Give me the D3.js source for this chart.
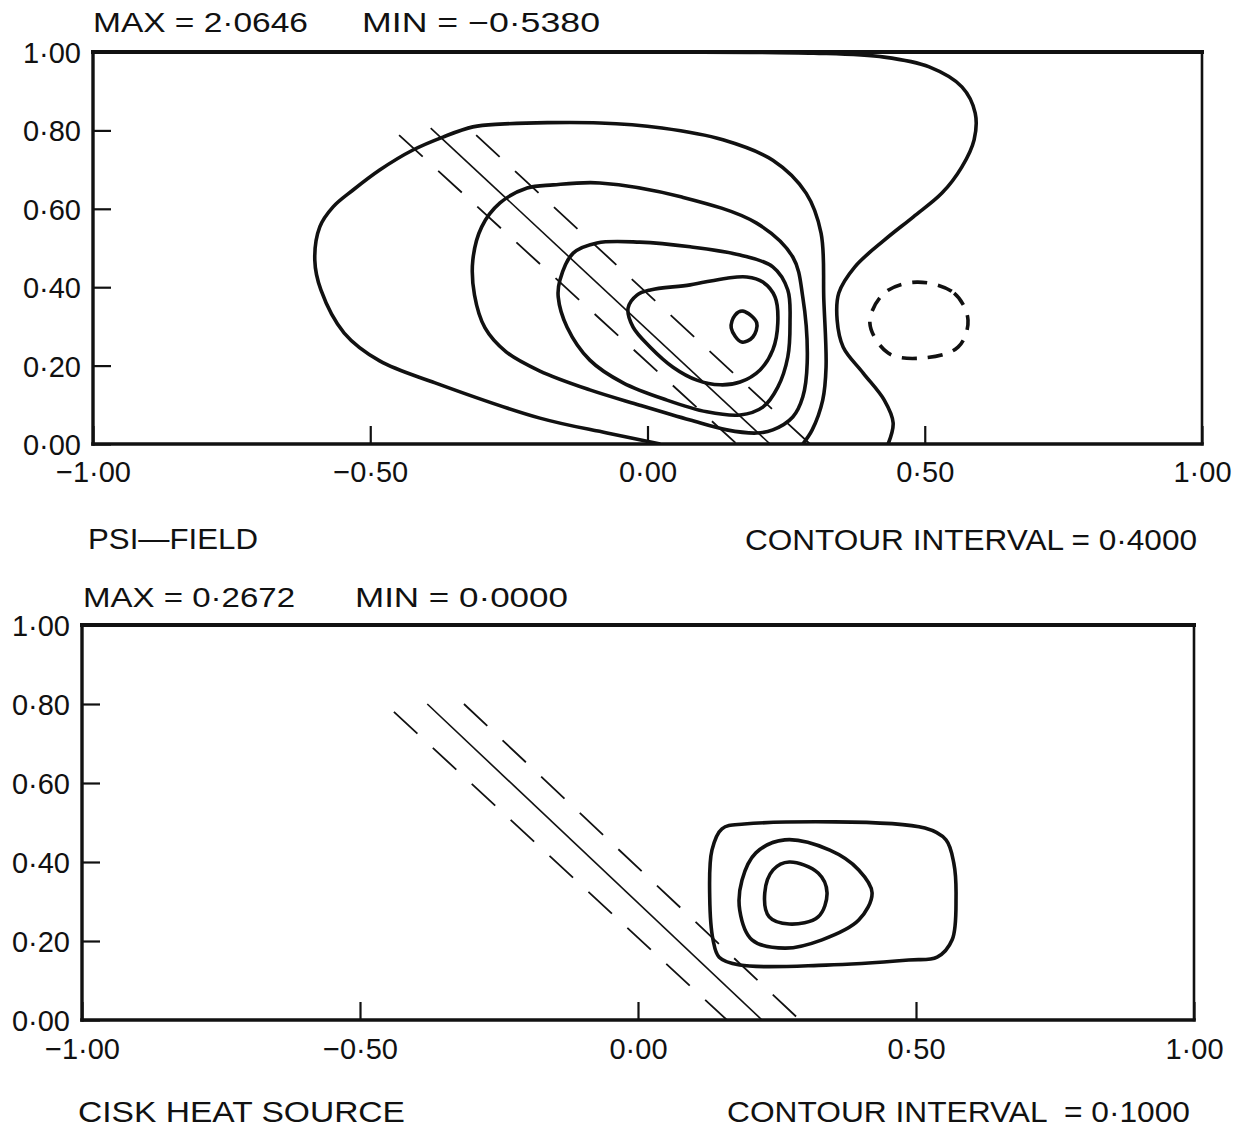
<!DOCTYPE html>
<html>
<head>
<meta charset="utf-8">
<script src="https://cdn.jsdelivr.net/npm/d3@7"></script>
<style>
  body { margin: 0; background: #fff; }
  svg { display: block; }
  text { font-family: "Liberation Sans Narrow", "Liberation Sans", "DejaVu Sans Condensed", sans-serif; fill: #111; white-space: pre; }
</style>
</head>
<body>
<svg width="1245" height="1129"></svg>
<script>
const xTicks = [-1, -0.5, 0, 0.5, 1];
const yTicks = [0, 0.2, 0.4, 0.6, 0.8, 1];

// PSI field contours (interval 0.4), [x, y]
const psiLevel04 = [[-1, 1], [0, 1], [0.3, 0.997], [0.427, 0.987], [0.508, 0.962], [0.567, 0.911], [0.591, 0.844],
  [0.589, 0.776], [0.567, 0.707], [0.531, 0.640], [0.479, 0.579], [0.427, 0.520], [0.374, 0.452],
  [0.345, 0.385], [0.342, 0.316], [0.353, 0.247], [0.389, 0.181], [0.427, 0.112], [0.443, 0.054], [0.434, 0]];
const psiLevel08 = [[0.023, 0], [-0.073, 0.028], [-0.194, 0.066], [-0.383, 0.156], [-0.483, 0.212], [-0.547, 0.283],
  [-0.589, 0.393], [-0.600, 0.469], [-0.591, 0.554], [-0.567, 0.605], [-0.531, 0.648], [-0.483, 0.699],
  [-0.423, 0.750], [-0.369, 0.783], [-0.315, 0.809], [-0.266, 0.816], [-0.086, 0.819], [0.026, 0.806],
  [0.136, 0.776], [0.226, 0.724], [0.286, 0.640], [0.313, 0.538], [0.318, 0.367], [0.322, 0.196],
  [0.316, 0.112], [0.297, 0.036], [0.280, 0]];
const psiLevel12 = [[-0.315, 0.469], [-0.299, 0.554], [-0.266, 0.615], [-0.217, 0.653], [-0.170, 0.661], [-0.086, 0.666],
  [0.062, 0.630], [0.196, 0.564], [0.262, 0.477], [0.280, 0.375], [0.288, 0.207], [0.280, 0.120],
  [0.262, 0.069], [0.226, 0.036], [0.197, 0.028], [0.143, 0.036], [0.077, 0.061], [-0.014, 0.099],
  [-0.104, 0.138], [-0.194, 0.186], [-0.255, 0.235], [-0.293, 0.296], [-0.312, 0.380]];
const psiLevel16 = [[-0.158, 0.418], [-0.134, 0.487], [-0.091, 0.513], [-0.014, 0.515], [0.077, 0.503], [0.167, 0.482],
  [0.226, 0.452], [0.253, 0.393], [0.257, 0.309], [0.253, 0.222], [0.235, 0.145], [0.208, 0.094],
  [0.167, 0.074], [0.107, 0.082], [0.035, 0.112], [-0.044, 0.156], [-0.104, 0.214], [-0.145, 0.298],
  [-0.161, 0.375]];
const psiLevel20 = [[-0.035, 0.347], [-0.019, 0.380], [0.005, 0.393], [0.077, 0.406], [0.143, 0.423], [0.179, 0.426],
  [0.208, 0.413], [0.230, 0.375], [0.235, 0.309], [0.226, 0.240], [0.203, 0.189], [0.167, 0.158],
  [0.131, 0.151], [0.089, 0.163], [0.046, 0.196], [0.005, 0.247], [-0.026, 0.298]];
const psiLevel24 = [[0.172, 0.339], [0.197, 0.309], [0.190, 0.273], [0.170, 0.260], [0.151, 0.296], [0.158, 0.329]];
const psiNeg04 = [[0.486, 0.413], [0.553, 0.385], [0.578, 0.316], [0.560, 0.247], [0.493, 0.219], [0.434, 0.232],
  [0.401, 0.309], [0.427, 0.385]];

// CISK heat source contours (interval 0.1)
const ciskLevel1 = [[0.191, 0.496], [0.516, 0.486], [0.554, 0.456], [0.568, 0.397], [0.572, 0.311], [0.565, 0.203],
  [0.538, 0.159], [0.487, 0.152], [0.338, 0.139], [0.183, 0.139], [0.146, 0.159], [0.135, 0.203],
  [0.129, 0.311], [0.133, 0.430], [0.151, 0.484]];
const ciskLevel2 = [[0.264, 0.456], [0.345, 0.430], [0.397, 0.380], [0.421, 0.322], [0.397, 0.253], [0.331, 0.203],
  [0.264, 0.182], [0.205, 0.203], [0.183, 0.278], [0.187, 0.354], [0.212, 0.423]];
const ciskLevel3 = [[0.272, 0.400], [0.324, 0.372], [0.340, 0.322], [0.324, 0.261], [0.272, 0.243], [0.236, 0.261],
  [0.228, 0.322], [0.243, 0.380]];

// sloping front lines: solid centre and two dashed sides
const psiFront = { solid: [[-0.391, 0.806], [0.221, 0]], left: [[-0.448, 0.788], [0.161, 0]], right: [[-0.309, 0.788], [0.293, 0]] };
const ciskFront = { solid: [[-0.379, 0.800], [0.223, 0]], left: [[-0.439, 0.780], [0.160, 0]], right: [[-0.313, 0.800], [0.291, 0]] };

const panels = [
  { id: "psi", left: 93, right: 1202, bottom: 444, top: 52,
    closed: [psiLevel12, psiLevel16, psiLevel20, psiLevel24], open: [psiLevel04, psiLevel08],
    dashed: [psiNeg04], front: psiFront,
    header: [["MAX = 2·0646", 93, 32, 215], ["MIN = −0·5380", 362, 32, 238]],
    footer: [["PSI—FIELD", 88, 549, 170, "start"], ["CONTOUR INTERVAL = 0·4000", 1197, 550, 452, "end"]],
    xlabY: 482 },
  { id: "cisk", left: 82, right: 1194, bottom: 1020, top: 625,
    closed: [ciskLevel1, ciskLevel2, ciskLevel3], open: [], dashed: [], front: ciskFront,
    header: [["MAX = 0·2672", 83, 607, 212], ["MIN = 0·0000", 355, 607, 213]],
    footer: [["CISK HEAT SOURCE", 78, 1122, 327, "start"], ["CONTOUR INTERVAL  = 0·1000", 1190, 1122, 463, "end"]],
    xlabY: 1059 }
];

const fmt = d => d3.format(".2f")(d).replace(".", "·").replace("-", "−");
const svg = d3.select("svg");

panels.forEach(p => {
  const x = d3.scaleLinear().domain([-1, 1]).range([p.left, p.right]);
  const y = d3.scaleLinear().domain([0, 1]).range([p.bottom, p.top]);
  const g = svg.append("g");

  g.append("clipPath").attr("id", "clip-" + p.id)
    .append("rect").attr("x", p.left).attr("y", p.top)
    .attr("width", p.right - p.left).attr("height", p.bottom - p.top);

  const body = g.append("g").attr("clip-path", `url(#clip-${p.id})`);
  const openLine = d3.line().x(d => x(d[0])).y(d => y(d[1])).curve(d3.curveCatmullRom.alpha(0.5));
  const closedLine = d3.line().x(d => x(d[0])).y(d => y(d[1])).curve(d3.curveCatmullRomClosed.alpha(0.5));
  const straight = d3.line().x(d => x(d[0])).y(d => y(d[1]));

  // fronts
  body.append("path").attr("d", straight(p.front.solid))
    .attr("fill", "none").attr("stroke", "#111").attr("stroke-width", 1.6);
  [p.front.left, p.front.right].forEach(l => {
    body.append("path").attr("d", straight(l))
      .attr("fill", "none").attr("stroke", "#111").attr("stroke-width", 1.8)
      .attr("stroke-dasharray", "32,21");
  });

  // contours
  body.selectAll("path.closed").data(p.closed).join("path").attr("class", "closed")
    .attr("d", closedLine).attr("fill", "none").attr("stroke", "#111").attr("stroke-width", 3.6);
  body.selectAll("path.open").data(p.open).join("path").attr("class", "open")
    .attr("d", openLine).attr("fill", "none").attr("stroke", "#111").attr("stroke-width", 3.6);
  body.selectAll("path.neg").data(p.dashed).join("path").attr("class", "neg")
    .attr("d", closedLine).attr("fill", "none").attr("stroke", "#111").attr("stroke-width", 3.6)
    .attr("stroke-dasharray", "15,11");

  // frame
  const frame = g.append("g").attr("stroke", "#111").attr("stroke-linecap", "square");
  frame.append("line").attr("x1", x(-1)).attr("x2", x(1)).attr("y1", y(1)).attr("y2", y(1)).attr("stroke-width", 4);
  frame.append("line").attr("x1", x(-1)).attr("x2", x(-1)).attr("y1", y(0)).attr("y2", y(1)).attr("stroke-width", 3.4);
  frame.append("line").attr("x1", x(-1)).attr("x2", x(1)).attr("y1", y(0)).attr("y2", y(0)).attr("stroke-width", 3.6);
  frame.append("line").attr("x1", x(1)).attr("x2", x(1)).attr("y1", y(0)).attr("y2", y(1)).attr("stroke-width", 2.6);

  // axes
  const ya = g.append("g").attr("transform", `translate(${p.left},0)`)
    .call(d3.axisLeft(y).tickValues(yTicks).tickFormat(fmt).tickSize(-18).tickPadding(12));
  const xa = g.append("g").attr("transform", `translate(0,${p.bottom})`)
    .call(d3.axisBottom(x).tickValues(xTicks).tickFormat(fmt).tickSize(-18).tickPadding(0));
  [ya, xa].forEach(a => {
    a.select(".domain").remove();
    a.selectAll(".tick line").attr("stroke", "#111").attr("stroke-width", 2.2);
    a.selectAll(".tick text").attr("fill", "#111").style("font-size", "29px")
      .style("font-family", '"Liberation Sans Narrow", "Liberation Sans", sans-serif');
  });
  ya.selectAll(".tick text").attr("dy", "0.36em");
  xa.selectAll(".tick text").attr("y", p.xlabY - p.bottom).attr("dy", 0);

  // header and footer texts
  p.header.forEach(([t, tx, ty, w]) => {
    g.append("text").attr("x", tx).attr("y", ty).attr("font-size", 28)
      .attr("textLength", w).attr("lengthAdjust", "spacingAndGlyphs").text(t);
  });
  p.footer.forEach(([t, tx, ty, w, anchor]) => {
    g.append("text").attr("x", anchor === "end" ? tx - w : tx).attr("y", ty).attr("font-size", 29)
      .attr("textLength", w).attr("lengthAdjust", "spacingAndGlyphs").text(t);
  });
});
</script>
</body>
</html>
